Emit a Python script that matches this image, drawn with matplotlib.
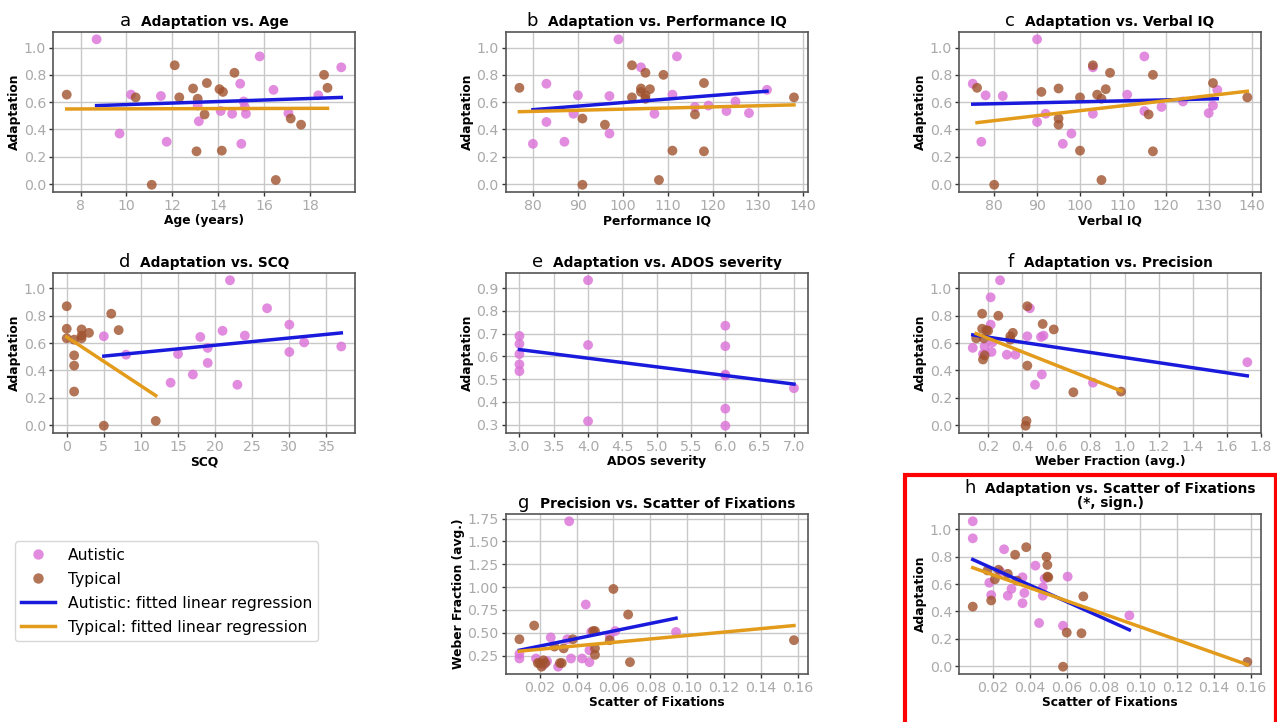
import numpy as np
import matplotlib
matplotlib.use("Agg")
import matplotlib.pyplot as plt
from matplotlib.patches import Rectangle
from matplotlib.lines import Line2D
from matplotlib.ticker import MultipleLocator
from matplotlib.transforms import offset_copy

# Colores
AUT_COLOR = "#da70d6"
TYP_COLOR = "#a0522d"
AUT_LINE = "#1a1add"
TYP_LINE = "#e39b1c"

# ---- a: Edad ----
age_aut = [8.7, 9.7, 10.2, 11.5, 11.75, 13.1, 13.15, 14.1, 14.6, 14.95, 15.0, 15.1, 15.15, 15.2, 15.8, 16.4, 17.05, 18.35, 19.35]
adapt_age_aut = [1.06, 0.37, 0.655, 0.645, 0.31, 0.575, 0.46, 0.535, 0.515, 0.735, 0.295, 0.605, 0.565, 0.515, 0.935, 0.69, 0.52, 0.65, 0.855]
age_typ = [7.4, 10.4, 11.1, 12.1, 12.3, 12.9, 13.05, 13.1, 13.4, 13.5, 14.05, 14.15, 14.2, 14.7, 16.5, 17.15, 17.6, 18.6, 18.75]
adapt_age_typ = [0.655, 0.635, -0.005, 0.87, 0.635, 0.70, 0.24, 0.625, 0.51, 0.74, 0.695, 0.245, 0.675, 0.815, 0.03, 0.48, 0.435, 0.80, 0.705]

# ---- b: CI manipulativo ----
piq_aut = [80, 83, 83, 87, 89, 90, 97, 97, 99, 104, 107, 111, 112, 116, 119, 123, 125, 128, 132]
adapt_piq_aut = [0.295, 0.735, 0.455, 0.31, 0.515, 0.65, 0.645, 0.37, 1.06, 0.855, 0.515, 0.655, 0.935, 0.565, 0.575, 0.535, 0.605, 0.52, 0.69]
piq_typ = [77, 91, 91, 96, 102, 102, 104, 104, 105, 105, 105, 106, 108, 109, 111, 116, 118, 118, 138]
adapt_piq_typ = [0.705, 0.48, -0.005, 0.435, 0.87, 0.635, 0.70, 0.675, 0.815, 0.65, 0.625, 0.695, 0.03, 0.80, 0.245, 0.51, 0.74, 0.24, 0.635]

# ---- c: CI verbal ----
viq_aut = [75, 77, 78, 82, 90, 90, 92, 96, 98, 103, 103, 111, 115, 115, 119, 124, 130, 131, 132]
adapt_viq_aut = [0.735, 0.31, 0.65, 0.645, 1.06, 0.455, 0.515, 0.295, 0.37, 0.855, 0.515, 0.655, 0.935, 0.535, 0.565, 0.605, 0.52, 0.575, 0.69]
viq_typ = [76, 80, 91, 95, 95, 95, 100, 100, 103, 104, 105, 105, 106, 107, 116, 117, 117, 131, 139]
adapt_viq_typ = [0.705, -0.005, 0.675, 0.70, 0.48, 0.435, 0.635, 0.245, 0.87, 0.655, 0.625, 0.03, 0.695, 0.815, 0.51, 0.80, 0.24, 0.74, 0.635]

# ---- d: SCQ ----
scq_aut = [5, 8, 14, 15, 17, 18, 19, 19, 21, 22, 23, 24, 27, 30, 30, 32, 37]
adapt_scq_aut = [0.65, 0.515, 0.31, 0.52, 0.37, 0.645, 0.565, 0.455, 0.69, 1.06, 0.295, 0.655, 0.855, 0.735, 0.535, 0.605, 0.575]
scq_typ = [0, 0, 0, 1, 1, 1, 1, 2, 2, 2, 3, 5, 6, 7, 12]
adapt_scq_typ = [0.87, 0.705, 0.635, 0.625, 0.51, 0.435, 0.245, 0.70, 0.655, 0.635, 0.675, -0.005, 0.815, 0.695, 0.03]

# ---- e: ADOS ----
ados_aut = [3, 3, 3, 3, 3, 4, 4, 4, 6, 6, 6, 6, 6, 6, 7]
adapt_ados_aut = [0.69, 0.655, 0.61, 0.565, 0.535, 0.935, 0.65, 0.315, 0.735, 0.645, 0.52, 0.515, 0.37, 0.295, 0.46]

# ---- f: Precisión (fracción de Weber) ----
weber_aut = [0.11, 0.17, 0.18, 0.215, 0.215, 0.22, 0.225, 0.27, 0.31, 0.36, 0.43, 0.445, 0.475, 0.51, 0.515, 0.525, 0.815, 1.72]
adapt_weber_aut = [0.565, 0.52, 0.575, 0.935, 0.735, 0.535, 0.605, 1.06, 0.515, 0.515, 0.65, 0.855, 0.295, 0.645, 0.37, 0.655, 0.31, 0.46]
weber_typ = [0.13, 0.165, 0.165, 0.17, 0.175, 0.18, 0.19, 0.20, 0.26, 0.33, 0.33, 0.345, 0.42, 0.425, 0.43, 0.43, 0.52, 0.585, 0.70, 0.98]
adapt_weber_typ = [0.635, 0.815, 0.705, 0.48, 0.635, 0.51, 0.695, 0.69, 0.80, 0.65, 0.625, 0.675, -0.005, 0.03, 0.87, 0.435, 0.74, 0.70, 0.24, 0.245]

# ---- g: Precisión vs. dispersión de fijaciones ----
scat_g_aut = [0.009, 0.009, 0.018, 0.022, 0.024, 0.026, 0.030, 0.035, 0.036, 0.037, 0.043, 0.045, 0.047, 0.047, 0.048, 0.058, 0.061, 0.094]
weber_g_aut = [0.27, 0.22, 0.22, 0.15, 0.19, 0.45, 0.13, 0.43, 1.72, 0.22, 0.22, 0.81, 0.31, 0.18, 0.51, 0.47, 0.52, 0.51]
scat_g_typ = [0.009, 0.017, 0.019, 0.020, 0.021, 0.022, 0.023, 0.028, 0.031, 0.032, 0.033, 0.038, 0.049, 0.050, 0.050, 0.050, 0.058, 0.060, 0.068, 0.069, 0.158]
weber_g_typ = [0.43, 0.58, 0.17, 0.17, 0.13, 0.20, 0.17, 0.35, 0.17, 0.17, 0.33, 0.43, 0.52, 0.52, 0.33, 0.26, 0.42, 0.98, 0.70, 0.18, 0.42]

# ---- h: Adaptación vs. dispersión de fijaciones ----
scat_h_aut = [0.009, 0.009, 0.018, 0.019, 0.024, 0.026, 0.028, 0.030, 0.036, 0.036, 0.037, 0.043, 0.045, 0.047, 0.047, 0.048, 0.058, 0.0605, 0.094]
adapt_h_aut = [1.06, 0.935, 0.61, 0.52, 0.69, 0.855, 0.515, 0.565, 0.65, 0.46, 0.535, 0.735, 0.315, 0.575, 0.515, 0.64, 0.295, 0.655, 0.37]
scat_h_typ = [0.009, 0.017, 0.019, 0.021, 0.023, 0.028, 0.032, 0.033, 0.038, 0.049, 0.0495, 0.0495, 0.050, 0.058, 0.060, 0.068, 0.069, 0.158]
adapt_h_typ = [0.435, 0.70, 0.48, 0.635, 0.705, 0.675, 0.815, 0.625, 0.87, 0.80, 0.74, 0.655, 0.65, -0.005, 0.245, 0.24, 0.51, 0.03]

# Regresiones lineales ajustadas: (intercepto, pendiente); None = sin ajuste
fit_aut = [(0.526, 0.00561), (0.337, 0.0026), (0.5325, 0.0007), (0.478, 0.00531),
           (0.744, -0.038), (0.6805, -0.1863), (0.273, 4.12), (0.8345, -6.06)]
fit_typ = [(0.5467, 0.00044), (0.4669, 0.00082), (0.1726, 0.00365), (0.645, -0.0358),
           None, (0.734, -0.494), (0.283, 1.879), (0.763, -4.765)]

letters = ['a', 'b', 'c', 'd', 'e', 'f', 'g', 'h']
titles = ['Adaptation vs. Age', 'Adaptation vs. Performance IQ', 'Adaptation vs. Verbal IQ',
          'Adaptation vs. SCQ', 'Adaptation vs. ADOS severity', 'Adaptation vs. Precision',
          'Precision vs. Scatter of Fixations', 'Adaptation vs. Scatter of Fixations']
subtitles = [None] * 7 + ['(*, sign.)']
xlabels = ['Age (years)', 'Performance IQ', 'Verbal IQ', 'SCQ', 'ADOS severity',
           'Weber Fraction (avg.)', 'Scatter of Fixations', 'Scatter of Fixations']
ylabels = ['Adaptation'] * 6 + ['Weber Fraction (avg.)', 'Adaptation']
xsteps = [2, 10, 10, 5, 0.5, 0.2, 0.02, 0.02]
ysteps = [0.2, 0.2, 0.2, 0.2, 0.1, 0.2, 0.25, 0.2]

aut_data = [(age_aut, adapt_age_aut), (piq_aut, adapt_piq_aut), (viq_aut, adapt_viq_aut),
            (scq_aut, adapt_scq_aut), (ados_aut, adapt_ados_aut), (weber_aut, adapt_weber_aut),
            (scat_g_aut, weber_g_aut), (scat_h_aut, adapt_h_aut)]
typ_data = [(age_typ, adapt_age_typ), (piq_typ, adapt_piq_typ), (viq_typ, adapt_viq_typ),
            (scq_typ, adapt_scq_typ), None, (weber_typ, adapt_weber_typ),
            (scat_g_typ, weber_g_typ), (scat_h_typ, adapt_h_typ)]

# Posiciones de los ejes (fracciones de figura)
lefts = [0.0415, 0.396, 0.751]
bottoms = [0.734, 0.4003, 0.0665]
w, h = 0.2365, 0.2216
positions = [(lefts[0], bottoms[0]), (lefts[1], bottoms[0]), (lefts[2], bottoms[0]),
             (lefts[0], bottoms[1]), (lefts[1], bottoms[1]), (lefts[2], bottoms[1]),
             (lefts[1], bottoms[2]), (lefts[2], bottoms[2])]

fig = plt.figure(figsize=(12.77, 7.22), dpi=100)
axes = []
title_parts = []

for i in range(8):
    ax = fig.add_axes([positions[i][0], positions[i][1], w, h])
    axes.append(ax)
    ax.set_axisbelow(True)
    ax.grid(True, color="#c8c8c8", linewidth=1.0)
    for sp in ax.spines.values():
        sp.set_color("#555555")
        sp.set_linewidth(1.2)
    ax.tick_params(color="#333333", labelsize=10.2, length=3, width=1, labelcolor="#aaaaaa", pad=2)

    xa, ya = aut_data[i]
    ax.scatter(xa, ya, s=50, color=AUT_COLOR, alpha=0.8, edgecolors='none', zorder=2)
    if typ_data[i] is not None:
        xt, yt = typ_data[i]
        ax.scatter(xt, yt, s=50, color=TYP_COLOR, alpha=0.8, edgecolors='none', zorder=2)

    b0, b1 = fit_aut[i]
    xx = np.array([min(xa), max(xa)])
    ax.plot(xx, b0 + b1 * xx, color=AUT_LINE, linewidth=2.5, zorder=3)
    if fit_typ[i] is not None:
        b0, b1 = fit_typ[i]
        xx = np.array([min(typ_data[i][0]), max(typ_data[i][0])])
        ax.plot(xx, b0 + b1 * xx, color=TYP_LINE, linewidth=2.5, zorder=3)

    ax.xaxis.set_major_locator(MultipleLocator(xsteps[i]))
    ax.yaxis.set_major_locator(MultipleLocator(ysteps[i]))
    ax.set_xlabel(xlabels[i], fontsize=8.8, fontweight='bold', labelpad=1)
    ax.set_ylabel(ylabels[i], fontsize=8.8, fontweight='bold', labelpad=2)

    # Título: letra del panel + texto en negrita
    rise = 6 if subtitles[i] is None else 21
    tr = offset_copy(ax.transAxes, fig=fig, x=0, y=rise, units='dots')
    lt = ax.text(0.5, 1.0, letters[i], transform=tr, fontsize=13, ha='left', va='baseline')
    tt = ax.text(0.5, 1.0, titles[i], transform=tr, fontsize=9.9, fontweight='bold', ha='left', va='baseline')
    title_parts.append((lt, tt, rise))
    if subtitles[i] is not None:
        ax.text(0.5, 1.0, subtitles[i], transform=offset_copy(ax.transAxes, fig=fig, x=0, y=7, units='dots'),
                fontsize=9.9, fontweight='bold', ha='center', va='baseline')

# Centrar letra + título sobre cada panel
fig.canvas.draw()
renderer = fig.canvas.get_renderer()
gap = 10
for ax, (lt, tt, rise) in zip(axes, title_parts):
    lw = lt.get_window_extent(renderer).width
    tw = tt.get_window_extent(renderer).width
    total = lw + gap + tw
    lt.set_transform(offset_copy(ax.transAxes, fig=fig, x=-total / 2, y=rise, units='dots'))
    tt.set_transform(offset_copy(ax.transAxes, fig=fig, x=-total / 2 + lw + gap, y=rise, units='dots'))

# Leyenda
handles = [
    Line2D([], [], marker='o', linestyle='none', color=AUT_COLOR, alpha=0.8, markersize=7.5, markeredgewidth=0),
    Line2D([], [], marker='o', linestyle='none', color=TYP_COLOR, alpha=0.8, markersize=7.5, markeredgewidth=0),
    Line2D([], [], color=AUT_LINE, linewidth=2.5),
    Line2D([], [], color=TYP_LINE, linewidth=2.5),
]
labels = ['Autistic', 'Typical', 'Autistic: fitted linear regression', 'Typical: fitted linear regression']
fig.legend(handles, labels, loc='lower left', bbox_to_anchor=(15 / 1277, 1 - 641 / 722), fontsize=11.2,
           frameon=True, handlelength=2.2, labelspacing=0.58, borderaxespad=0)

# Marco rojo alrededor del panel h
fig.patches.append(Rectangle((905 / 1277, -0.02), 0.2905, 0.02 + 1 - 475 / 722, transform=fig.transFigure,
                             fill=False, edgecolor='red', linewidth=3, figure=fig))

fig.savefig("out.png", dpi=100)
